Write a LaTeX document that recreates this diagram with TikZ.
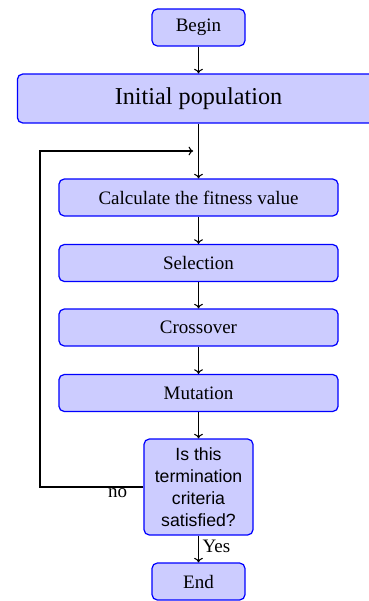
\documentclass[tikz,border=0pt]{standalone}
\usepackage{fontspec}
\usetikzlibrary{arrows.meta}
\setmainfont{Liberation Serif}
\setsansfont{Liberation Sans}
\begin{document}
\begin{tikzpicture}[x=0.566pt,y=-0.566pt,
  txt/.style={font=\fontsize{10.75}{13}\selectfont},
  box/.style={draw=blue,fill=blue!20,line width=0.7pt,rounded corners=3pt,align=center,inner sep=0pt,txt},
  smallbox/.style={box,minimum width=52.6pt,minimum height=20.9pt},
  widebox/.style={box,minimum width=158pt,minimum height=20.9pt},
  conn/.style={-{To[length=2.6pt,width=5pt]},line width=0.6pt}]
\useasboundingbox (0,0) rectangle (369,601);
\node[smallbox] (begin) at (198.5,27.5) {Begin};
\node[box,minimum width=205pt,minimum height=27.7pt,font=\fontsize{13.7}{16}\selectfont] (init) at (198.5,98.5) {Initial population};
\node[widebox] (calc) at (198.5,197.5) {Calculate the fitness value};
\node[widebox] (sel) at (198.5,263) {Selection};
\node[widebox] (cross) at (198.5,327.5) {Crossover};
\node[widebox] (mut) at (198.5,393) {Mutation};
\node[box,minimum width=61.7pt,minimum height=54.3pt,font=\sffamily\fontsize{10}{12.5}\selectfont] (dec) at (198.5,487) {Is this\\termination\\criteria\\satisfied?};
\node[smallbox] (end) at (198.5,581.5) {End};
\coordinate (fb) at (198.5,151);
\coordinate (lc) at (40,487);
\draw[conn] (begin) -- (init);
\draw[conn] (init) -- (calc);
\draw[conn] (calc) -- (sel);
\draw[conn] (sel) -- (cross);
\draw[conn] (cross) -- (mut);
\draw[conn] (mut) -- (dec);
\draw[conn] (dec) -- node[right,inner sep=2pt,pos=0.4,txt]{Yes} (end);
\draw[conn,shorten >=3pt] (dec.west) -- node[pos=0.25,below,inner sep=0.5pt,txt]{no} (lc) |- (fb);
\end{tikzpicture}
\end{document}
